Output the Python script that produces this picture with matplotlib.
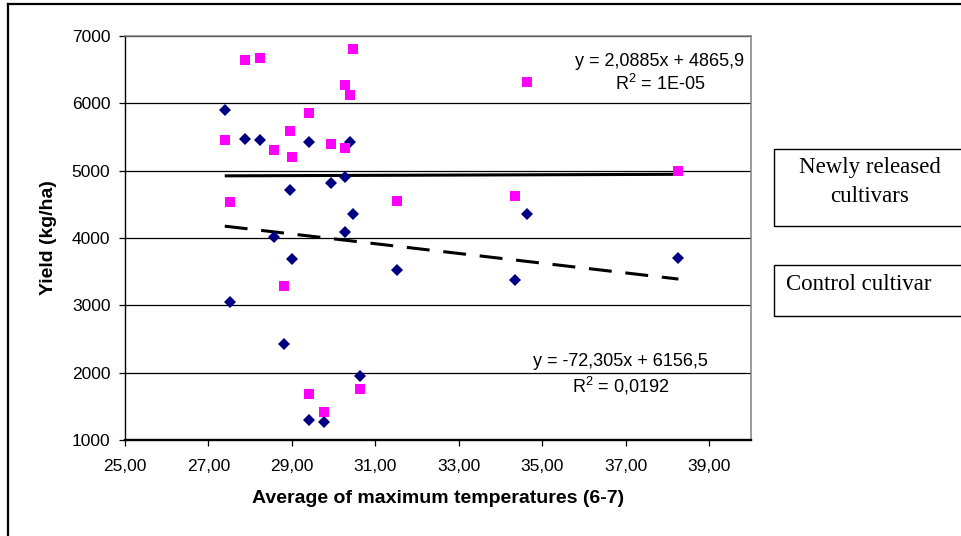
import matplotlib
matplotlib.use("Agg")
import matplotlib.pyplot as plt
import numpy as np
from matplotlib.lines import Line2D
from matplotlib.patches import Rectangle
from matplotlib.ticker import FuncFormatter

plt.rcParams["font.family"] = ["Liberation Sans", "DejaVu Sans"]

# average of maximum temperatures, months 6-7 (shared by both groups)
temp = [27.39, 27.52, 27.88, 28.24, 28.56, 28.80, 28.96, 29.00, 29.40, 29.40, 29.77,
        29.94, 30.26, 30.26, 30.38, 30.46, 30.62, 31.52, 34.35, 34.63, 38.26]

# yields (kg/ha)
new_yield = [5450, 4530, 6650, 6670, 5310, 3290, 5590, 5210, 5850, 1690, 1410,
             5400, 6270, 5330, 6130, 6810, 1760, 4550, 4630, 6320, 5000]
control_yield = [5900, 3050, 5475, 5450, 4010, 2420, 4720, 3690, 5420, 1290, 1270,
                 4810, 4910, 4090, 5420, 4350, 1950, 3525, 3380, 4350, 3710]

# linear trend lines (slope, intercept) and their R^2
new_fit = (2.0885, 4865.9)
new_r2 = "1E-05"
control_fit = (-72.305, 6156.5)
control_r2 = "0,0192"

x_ticks = [25, 27, 29, 31, 33, 35, 37, 39]
y_ticks = [1000, 2000, 3000, 4000, 5000, 6000, 7000]


def eq_label(fit, r2):
    slope, icpt = fit
    s = f"{slope:g}".replace(".", ",")
    i = f"{icpt:g}".replace(".", ",")
    return f"y = {s}x + {i}\nR$^2$ = {r2}"


W, H = 962, 536
fig = plt.figure(figsize=(W / 100, H / 100), dpi=100)
plt.rcParams["mathtext.fontset"] = "custom"
plt.rcParams["mathtext.rm"] = "Liberation Sans"
plt.rcParams["mathtext.default"] = "regular"
ax = fig.add_axes([125 / W, 1 - 440 / H, 626 / W, 404 / H])

ax.plot(temp, control_yield, linestyle="none", marker="D", ms=6.1,
        color="#000080", mew=0, zorder=3)
ax.plot(temp, new_yield, linestyle="none", marker="s", ms=6.8,
        color="#FF00FF", mew=0, zorder=3)

xs = np.array([min(temp), max(temp)])
ax.plot(xs, new_fit[0] * xs + new_fit[1], color="black", lw=2.2,
        solid_capstyle="butt", zorder=2.8)
ax.plot(xs, control_fit[0] * xs + control_fit[1], color="black", lw=2.2,
        dashes=(7.5, 4.5), zorder=2.8)

ax.set_xlim(25, 40)
ax.set_ylim(1000, 7000)
ax.set_xticks(x_ticks)
ax.set_yticks(y_ticks)
ax.xaxis.set_major_formatter(FuncFormatter(lambda v, p: f"{v:.2f}".replace(".", ",")))
ax.tick_params(direction="out", length=4.5, width=0.9, colors="black",
               labelsize=12.5)
ax.tick_params(axis="x", pad=9)
ax.tick_params(axis="y", pad=6)
ax.yaxis.grid(True, color="black", lw=0.9)
ax.set_axisbelow(True)

for side in ("top", "right"):
    ax.spines[side].set_color("#808080")
    ax.spines[side].set_linewidth(1.1)
ax.spines["left"].set_linewidth(1.0)
ax.spines["bottom"].set_linewidth(1.7)

ax.set_xlabel("Average of maximum temperatures (6-7)", fontsize=14,
              fontweight="bold")
ax.xaxis.set_label_coords(0.5, -0.123)
ax.set_ylabel("Yield (kg/ha)", fontsize=14, fontweight="bold")
ax.yaxis.set_label_coords(-0.108, 0.5)

ax.text(37.82, 6440, eq_label(new_fit, new_r2), ha="center", va="center",
        fontsize=13, linespacing=1.25)
ax.text(36.88, 1966, eq_label(control_fit, control_r2), ha="center",
        va="center", fontsize=13, linespacing=1.25)

# outer frame, cut at the right and bottom edges
fig.add_artist(Line2D([8 / W, 1.0], [1 - 4 / H, 1 - 4 / H], color="black", lw=1.6))
fig.add_artist(Line2D([8 / W, 8 / W], [0.0, 1 - 4 / H], color="black", lw=1.6))

# group captions
fig.add_artist(Rectangle((774 / W, 1 - 226 / H), 200 / W, 77 / H, fill=False,
                         edgecolor="black", lw=1.0, transform=fig.transFigure))
fig.add_artist(Rectangle((774 / W, 1 - 316 / H), 200 / W, 51 / H, fill=False,
                         edgecolor="black", lw=1.0, transform=fig.transFigure))
fig.text(870 / W, 1 - 182 / H, "Newly released\ncultivars", ha="center",
         va="center", fontsize=16.5, family="Liberation Serif", linespacing=1.55)
fig.text(786 / W, 1 - 285 / H, "Control cultivar", ha="left", va="center",
         fontsize=16.5, family="Liberation Serif")

fig.savefig("out.png", dpi=100)
